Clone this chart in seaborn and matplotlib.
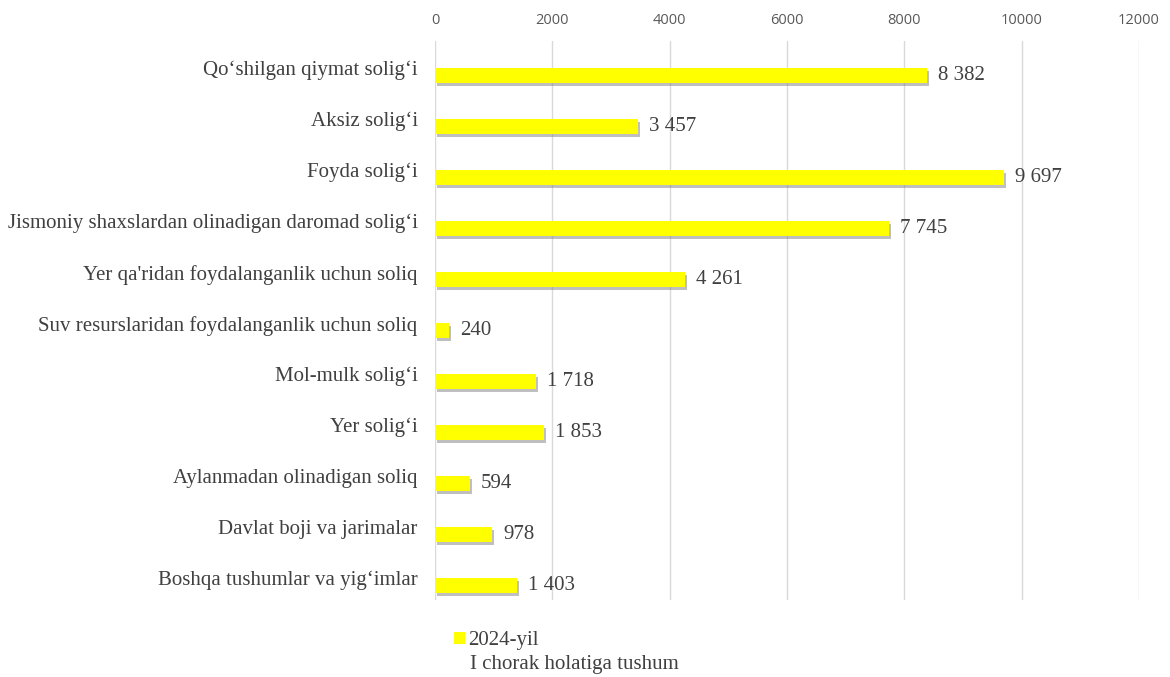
import matplotlib
matplotlib.use("Agg")
import matplotlib.pyplot as plt
import matplotlib.patheffects as pe
from matplotlib.transforms import ScaledTranslation
import seaborn as sns
import pandas as pd

categories = [
    "Qo‘shilgan qiymat solig‘i",
    "Aksiz solig‘i",
    "Foyda solig‘i",
    "Jismoniy shaxslardan olinadigan daromad solig‘i",
    "Yer qa'ridan foydalanganlik uchun soliq",
    "Suv resurslaridan foydalanganlik uchun soliq",
    "Mol-mulk solig‘i",
    "Yer solig‘i",
    "Aylanmadan olinadigan soliq",
    "Davlat boji va jarimalar",
    "Boshqa tushumlar va yig‘imlar",
]
values = [8382, 3457, 9697, 7745, 4261, 240, 1718, 1853, 594, 978, 1403]
x_ticks = [0, 2000, 4000, 6000, 8000, 10000, 12000]
series_name = "2024-yil"
series_note = "I chorak holatiga tushum"

df = pd.DataFrame({"soliq": categories, "tushum": values})

sns.set_theme(style="white")
plt.rcParams["font.family"] = ["Liberation Serif", "DejaVu Serif"]

fig = plt.figure(figsize=(11.7, 6.77), dpi=100)
ax = fig.add_axes([435 / 1170, 1 - 600 / 677, (1139 - 435) / 1170, 559 / 677])

sns.barplot(data=df, x="tushum", y="soliq", orient="h", color="#FFFF00",
            width=0.29, saturation=1, ax=ax, label=series_name, linewidth=0)

# soft shadow under the bars, like the office chart
for p in ax.patches:
    p.set_path_effects([pe.SimplePatchShadow(offset=(1.5, -2.5), shadow_rgbFace="#808080", alpha=0.5),
                        pe.Normal()])

lbls = ax.bar_label(ax.containers[0], labels=[f"{v:,}".replace(",", " ") for v in values],
                    padding=8, fontsize=15, color="#404040")
down = ScaledTranslation(0, -0.025, fig.dpi_scale_trans)
for t in lbls:
    t.set_transform(t.get_transform() + down)

ax.set_xlim(0, 12000)
ax.set_ylim(10.29, -0.67)
ax.set_xticks(x_ticks)
ax.xaxis.tick_top()
ax.tick_params(axis="x", length=0, pad=9.5, labelsize=10.5, labelcolor="#595959")
for t in ax.get_xticklabels():
    t.set_fontfamily("Open Sans")
ax.tick_params(axis="y", length=0, pad=12.5, labelsize=15, labelcolor="#404040")
shift = ScaledTranslation(0, 0.07, fig.dpi_scale_trans)
for t in ax.get_yticklabels():
    t.set_transform(t.get_transform() + shift)

ax.grid(axis="x", color="#d9d9d9", linewidth=1)
ax.set_axisbelow(True)
for s in ax.spines.values():
    s.set_visible(False)
ax.set_xlabel("")
ax.set_ylabel("")

leg = ax.get_legend()
if leg is not None:
    leg.remove()
h, l = ax.get_legend_handles_labels()
leg = fig.legend(h[:1], l[:1], loc="center left", bbox_to_anchor=(454 / 1170, 1 - 641 / 677),
                 frameon=False, fontsize=15, handlelength=0.55, handleheight=0.55,
                 handletextpad=0.15, labelcolor="#404040", borderaxespad=0, borderpad=0)
for hd in leg.legend_handles:
    hd.set_path_effects([])
fig.text(470 / 1170, 1 - 664 / 677, series_note, fontsize=15, color="#404040", va="center")

fig.savefig("out.png", dpi=100, facecolor="white")
